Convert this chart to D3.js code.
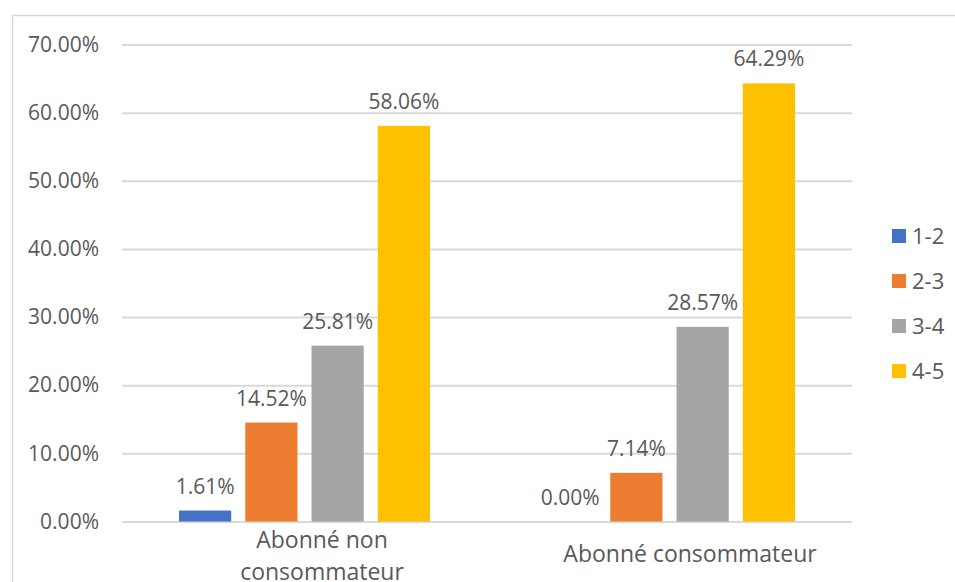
<!DOCTYPE html>
<html>
<head>
<meta charset="utf-8">
<script src="https://cdn.jsdelivr.net/npm/d3@7"></script>
<style>
  html, body { margin: 0; padding: 0; background: #fff; }
  svg { display: block; font-family: "Open Sans", "Noto Sans", sans-serif; }
</style>
</head>
<body>
<svg id="chart" width="955" height="582"></svg>
<script>
// Subscriber groups and rating ranges
const categories = ["Abonné non consommateur", "Abonné consommateur"];
const categoryLines = [["Abonné non", "consommateur"], ["Abonné consommateur"]];
const seriesNames = ["1-2", "2-3", "3-4", "4-5"];
const values12 = [1.61, 0.00];
const values23 = [14.52, 7.14];
const values34 = [25.81, 28.57];
const values45 = [58.06, 64.29];
const yTicks = [0, 10, 20, 30, 40, 50, 60, 70];
const colors = ["#4472C4", "#ED7D31", "#A5A5A5", "#FFC000"];

const seriesValues = [values12, values23, values34, values45];
const rows = categories.map((c, i) => ({
  category: c,
  values: seriesNames.map((s, j) => ({ series: s, value: seriesValues[j][i] }))
}));

const svg = d3.select("#chart");
const textColor = "#595959";
const gridColor = "#D9D9D9";

// chart frame
svg.append("rect")
  .attr("x", 12.5).attr("y", 15.5)
  .attr("width", 960).attr("height", 600)
  .attr("fill", "none").attr("stroke", gridColor).attr("stroke-width", 1.5);

const plot = { left: 122, right: 852, top: 44.5, bottom: 521.5 };

const y = d3.scaleLinear().domain([0, 70]).range([plot.bottom, plot.top]);
const x0 = d3.scaleBand().domain(categories).range([plot.left, plot.right]).paddingInner(0).paddingOuter(0);
const x1 = d3.scaleBand().domain(seriesNames)
  .range([(x0.bandwidth() - 251) / 2, (x0.bandwidth() + 251) / 2])
  .paddingInner(0.212).paddingOuter(0);

// gridlines and y tick labels via a D3 axis
const yAxis = d3.axisLeft(y)
  .tickValues(yTicks)
  .tickSize(-(plot.right - plot.left))
  .tickPadding(23)
  .tickFormat(d => d.toFixed(2) + "%");

const gAxis = svg.append("g")
  .attr("transform", `translate(${plot.left},0)`)
  .call(yAxis);
gAxis.select(".domain").remove();
gAxis.selectAll(".tick line").attr("stroke", gridColor).attr("stroke-width", 2);
gAxis.selectAll(".tick text")
  .attr("fill", textColor)
  .attr("font-size", 21)
  .attr("font-family", "'Open Sans', 'Noto Sans', sans-serif");

// bars
const groups = svg.append("g").selectAll("g")
  .data(rows).join("g")
  .attr("transform", d => `translate(${x0(d.category)},0)`);

groups.selectAll("rect")
  .data(d => d.values).join("rect")
  .attr("x", d => x1(d.series))
  .attr("width", x1.bandwidth())
  .attr("y", d => y(d.value))
  .attr("height", d => y(0) - y(d.value))
  .attr("fill", (d, i) => colors[i]);

// value labels
groups.selectAll("text.val")
  .data(d => d.values).join("text")
  .attr("class", "val")
  .attr("x", d => x1(d.series) + x1.bandwidth() / 2)
  .attr("y", d => y(d.value) - 17)
  .attr("text-anchor", "middle")
  .attr("fill", textColor)
  .attr("font-size", 21)
  .text(d => d.value.toFixed(2) + "%");

// category labels
const catLabelPos = [{ cx: 322, y: 548 }, { cx: 690, y: 562 }];
categoryLines.forEach((lines, i) => {
  const t = svg.append("text")
    .attr("text-anchor", "middle")
    .attr("fill", textColor)
    .attr("font-size", 23);
  lines.forEach((ln, k) => {
    t.append("tspan")
      .attr("x", catLabelPos[i].cx)
      .attr("y", catLabelPos[i].y + k * 32)
      .text(ln);
  });
});

// legend
const legend = svg.append("g").selectAll("g")
  .data(seriesNames).join("g")
  .attr("transform", (d, i) => `translate(892,${236 + i * 45})`);
legend.append("rect")
  .attr("x", 0).attr("y", -7)
  .attr("width", 14).attr("height", 14)
  .attr("fill", (d, i) => colors[i]);
legend.append("text")
  .attr("x", 20).attr("y", 8)
  .attr("fill", textColor)
  .attr("font-size", 22)
  .text(d => d);
</script>
</body>
</html>
